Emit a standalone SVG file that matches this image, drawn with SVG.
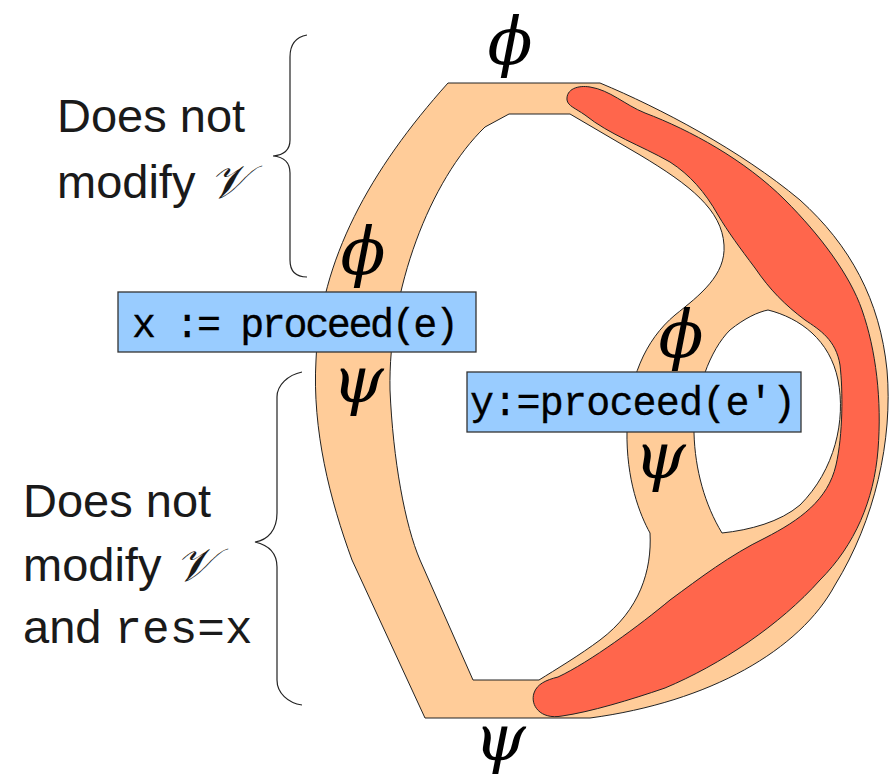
<svg xmlns="http://www.w3.org/2000/svg" width="895" height="780" viewBox="0 0 895 780">
<style>
.lbl{font-family:"Liberation Sans",Arial,sans-serif;font-size:47px;fill:#1a1a1a}
.cal{font-family:"DejaVu Serif","Liberation Serif",serif;font-style:italic}
.mono{font-family:"Liberation Mono","Courier New",monospace}
.greek{font-family:"DejaVu Serif","Liberation Serif",serif;font-style:italic;font-size:66px;fill:#000;text-anchor:middle}
.box{fill:#99CCFF;stroke:#333;stroke-width:1.3}
.code{font-family:"Liberation Mono","DejaVu Sans Mono",monospace;font-size:40px;fill:#000;stroke:#000;stroke-width:0.3}
.brace{fill:none;stroke:#222;stroke-width:1.2}
.edge{stroke:#222;stroke-width:1}
</style>
<g id="band">
<path class="edge" fill="#FFCC99" fill-rule="evenodd" d="M448,83 L600,83 C660,108 740,150 800,200 C850,245 880,300 887,370 C893,440 875,520 835,585 C800,650 710,702 590,718 L425,718 L352,560 C330,500 312,430 316,360 C320,260 370,170 448,83 Z
M509,114 L570,114 L640,155 C690,185 722,210 724,245 C726,275 700,295 675,315 C645,340 628,380 627,430 C626,480 640,515 650,533 C652,570 640,610 600,640 C580,655 555,670 539,680 L473,680 L420,560 C405,525 393,460 390,390 C388,290 430,180 485,127 Z
M768,310 C800,318 830,340 838,380 C846,420 835,470 800,505 C780,522 750,530 722,533 C705,505 695,470 694,433 C695,390 710,350 730,330 C745,318 758,312 768,310 Z"/>
</g>
<g id="red-region">
<path class="edge" fill="#FF664C" d="M567,100 C566,89 578,85 590,87 C610,90 625,105 645,113 C690,130 745,160 785,200 C820,235 850,275 862,310 C876,350 882,400 878,450 C874,500 855,545 820,580 C780,625 720,665 665,688 C630,700 590,712 562,716 C540,720 530,705 534,693 C537,684 546,680 558,677 C590,662 640,625 670,600 C700,578 730,555 765,538 C800,520 828,500 836,465 C843,435 843,390 840,365 C836,340 820,330 805,320 C785,305 770,290 755,268 C740,248 728,232 718,215 C705,192 690,175 670,162 C640,145 610,135 585,115 C575,108 568,106 567,100 Z"/>
</g>
<g id="braces">
<path class="brace" d="M307,35 C296,37 290,45 290,57 L290,140 C290,150 284,155 273,156 C284,157 290,162 290,173 L290,260 C290,272 296,277 307,277"/>
<path class="brace" d="M302,372 C288,375 277,385 277,397 L277,513 C277,530 268,540 255,542 C268,545 277,553 277,567 L277,680 C277,693 288,703 302,705"/>
</g>
<g id="label-top">
<text class="lbl" x="57" y="132">Does not</text>
<text class="lbl" x="57" y="198">modify <tspan class="cal">𝒱</tspan></text>
</g>
<g id="label-bottom">
<text class="lbl" x="23" y="517">Does not</text>
<text class="lbl" x="23" y="581">modify <tspan class="cal">𝒱</tspan></text>
<text class="lbl" x="23" y="643">and <tspan class="mono" font-size="46">res=x</tspan></text>
</g>
<g id="greek">
<text class="greek" x="510" y="64">ϕ</text>
<text class="greek" x="363" y="274">ϕ</text>
<text class="greek" x="358" y="402">ψ</text>
<text class="greek" x="681" y="357">ϕ</text>
<text class="greek" x="660" y="478">ψ</text>
<text class="greek" x="500" y="760">ψ</text>
</g>
<g id="box-x">
<rect class="box" x="118" y="292" width="358" height="60"/>
<text class="code" x="132" y="337" textLength="327" lengthAdjust="spacing">x := proceed(e)</text>
</g>
<g id="box-y">
<rect class="box" x="467" y="372" width="334" height="60"/>
<text class="code" x="470" y="415" textLength="326" lengthAdjust="spacing">y:=proceed(e′)</text>
</g>
</svg>
